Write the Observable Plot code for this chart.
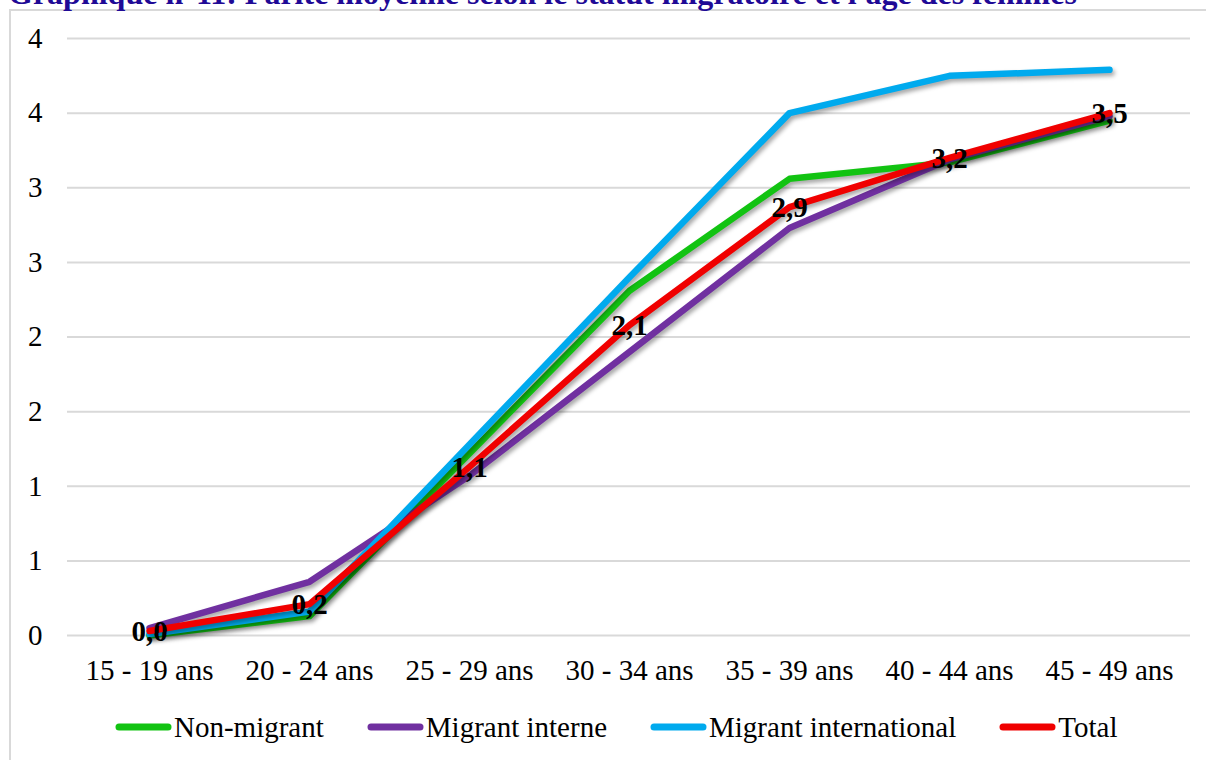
<!DOCTYPE html>
<html><head><meta charset="utf-8">
<script src="https://cdn.jsdelivr.net/npm/d3@7"></script>
<script src="https://cdn.jsdelivr.net/npm/@observablehq/plot@0.6"></script>
<style>
body{margin:0;background:#fff;overflow:hidden;}
#wrap{position:relative;width:1206px;height:760px;overflow:hidden;font-family:"Liberation Serif","Times New Roman",serif;background:#fff;}
#frame{position:absolute;left:9px;top:9px;width:1300px;height:800px;border:2px solid #d9d9d9;box-sizing:border-box;}
#title{position:absolute;left:8px;top:-23px;white-space:nowrap;font-weight:bold;font-size:32px;line-height:32px;color:#1f0a96;}
#chart{position:absolute;left:0;top:0;}
#legend{position:absolute;left:115px;top:707px;display:flex;gap:43px;font-size:29px;line-height:40px;color:#000;}
.item{display:flex;align-items:center;gap:2px;}
</style></head>
<body>
<div id="wrap">
  <div id="frame"></div>
  <div id="title">Graphique n°11: Parité moyenne selon le statut migratoire et l'âge des femmes</div>
  <div id="chart"></div>
  <div id="legend"></div>
</div>
<script>
const categories = ["15 - 19 ans","20 - 24 ans","25 - 29 ans","30 - 34 ans","35 - 39 ans","40 - 44 ans","45 - 49 ans"];
const seriesNames = ["Non-migrant","Migrant interne","Migrant international","Total"];
const seriesColors = ["#12c312","#7030a0","#00aaee","#f00000"];
const nonMigrant = [0.00, 0.13, 1.22, 2.31, 3.06, 3.17, 3.45];
const migrantInterne = [0.05, 0.36, 1.07, 1.90, 2.73, 3.19, 3.48];
const migrantInternational = [0.01, 0.16, 1.28, 2.40, 3.50, 3.75, 3.79];
const total = [0.03, 0.21, 1.13, 2.08, 2.87, 3.20, 3.50];
const yTicks = [0, 0.5, 1, 1.5, 2, 2.5, 3, 3.5, 4];
const yTickLabels = ["0","1","1","2","2","3","3","4","4"];

const valuesBySeries = [nonMigrant, migrantInterne, migrantInternational, total];
const rows = seriesNames.flatMap((s, i) => categories.map((c, j) => ({series: s, cat: c, value: valuesBySeries[i][j]})));
const totalRows = rows.filter(d => d.series === "Total");

const chart = Plot.plot({
  width: 1206, height: 690,
  marginLeft: 67, marginRight: 16, marginTop: 38, marginBottom: 55,
  style: {fontFamily: '"Liberation Serif", "Times New Roman", serif', fontSize: "29px", color: "#000", background: "transparent", overflow: "visible"},
  x: {type: "point", domain: categories, padding: 0.5, label: null},
  y: {domain: [0, 4], label: null},
  color: {domain: seriesNames, range: seriesColors},
  marks: [
    Plot.gridY(yTicks, {stroke: "#d9d9d9", strokeOpacity: 1, strokeWidth: 2}),
    Plot.axisY(yTicks, {tickSize: 0, tickPadding: 25, tickFormat: d => yTickLabels[yTicks.indexOf(d)], label: null}),
    Plot.axisX({tickSize: 0, tickPadding: 24, label: null}),
    Plot.line(rows, {x: "cat", y: "value", z: "series", stroke: "series", strokeWidth: 6.5, strokeLinecap: "round", strokeLinejoin: "round"}),
    Plot.text(totalRows, {x: "cat", y: "value", dy: 1, text: d => d3.format(".1f")(d.value).replace(".", ","), fontWeight: "bold", fontSize: 29, fill: "#000"})
  ]
});
chart.querySelectorAll('g[aria-label="line"] path').forEach(p => {
  p.style.filter = "drop-shadow(2px 3px 2px rgba(0,0,0,0.35))";
});
document.getElementById("chart").appendChild(chart);

const legend = document.getElementById("legend");
seriesNames.forEach((name, i) => {
  const item = document.createElement("div");
  item.className = "item";
  item.innerHTML = `<svg width="57" height="12"><line x1="4" y1="6" x2="53" y2="6" stroke="${seriesColors[i]}" stroke-width="7" stroke-linecap="round"/></svg><span>${name}</span>`;
  legend.appendChild(item);
});
</script>
</body></html>
